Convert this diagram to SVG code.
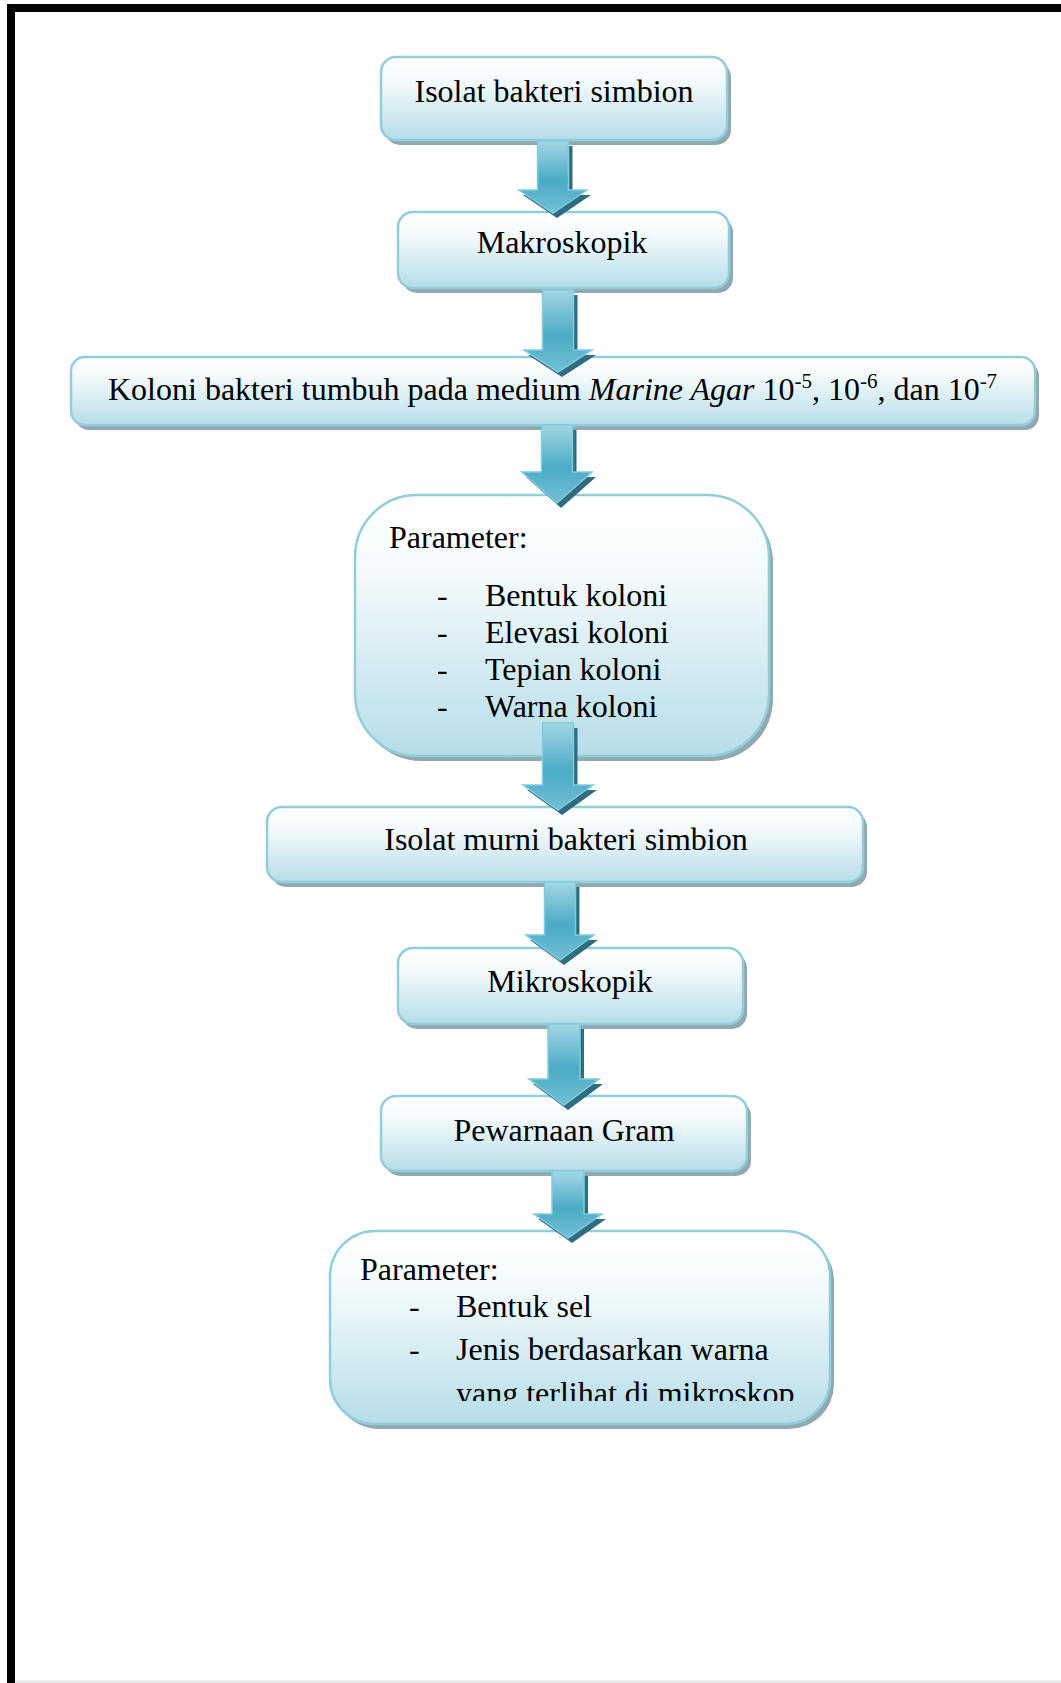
<svg xmlns="http://www.w3.org/2000/svg" width="1061" height="1683" viewBox="0 0 1061 1683">
  <defs>
    <linearGradient id="boxFill" x1="0" y1="0" x2="0" y2="1">
      <stop offset="0" stop-color="#ffffff"/>
      <stop offset="0.3" stop-color="#f3fafc"/>
      <stop offset="1" stop-color="#b6dde8"/>
    </linearGradient>
    <linearGradient id="arrowFill" x1="0" y1="0" x2="0" y2="1">
      <stop offset="0" stop-color="#a3d6e5"/>
      <stop offset="0.55" stop-color="#4aabc5"/>
      <stop offset="1" stop-color="#72c0d5"/>
    </linearGradient>
    <clipPath id="lastLineClip">
      <rect x="330" y="1231" width="500" height="170"/>
    </clipPath>
    <style>
      .shadow { fill: #8fa8b1; }
      .box { fill: url(#boxFill); stroke: #92cddc; stroke-width: 2.5; }
      .label { font-family: "Liberation Serif", "Times New Roman", serif; font-size: 32px; fill: #000000; }
      .mid { text-anchor: middle; }
      .sup { font-size: 21px; }
      .arrowShadow { fill: #2f6d7e; }
      .arrow { fill: url(#arrowFill); stroke: #7fcbe0; stroke-width: 1.5; stroke-linejoin: miter; }
    </style>
  </defs>

  <rect width="1061" height="1683" fill="#ffffff"/>

  <!-- page frame -->
  <line x1="15" y1="1681.5" x2="1061" y2="1681.5" stroke="#e4e4e4" stroke-width="2"/>
  <path d="M11,1683 V8 H1061" fill="none" stroke="#000000" stroke-width="8"/>

  <g id="nodes">
    <g id="node-isolat">
      <rect class="shadow" x="385" y="62" width="346" height="83" rx="15"/>
      <rect class="box" x="381" y="57" width="346" height="83" rx="15"/>
      <text class="label mid" x="554" y="102">Isolat bakteri simbion</text>
    </g>
    <g id="node-makroskopik">
      <rect class="shadow" x="402" y="217" width="331" height="76" rx="15"/>
      <rect class="box" x="398" y="212" width="331" height="76" rx="15"/>
      <text class="label mid" x="562" y="253">Makroskopik</text>
    </g>
    <g id="node-koloni">
      <rect class="shadow" x="75" y="362" width="964" height="68" rx="14"/>
      <rect class="box" x="71" y="357" width="964" height="68" rx="14"/>
      <text class="label" x="108" y="400">Koloni bakteri tumbuh pada medium <tspan font-style="italic">Marine Agar</tspan> 10<tspan class="sup" dy="-12">-5</tspan><tspan dy="12">, 10</tspan><tspan class="sup" dy="-12">-6</tspan><tspan dy="12">, dan 10</tspan><tspan class="sup" dy="-12">-7</tspan></text>
    </g>
    <g id="node-parameter-makro">
      <rect class="shadow" x="359" y="500" width="414" height="261" rx="62"/>
      <rect class="box" x="355" y="495" width="414" height="261" rx="62"/>
      <text class="label" x="389" y="548">Parameter:</text>
      <g class="label">
        <text x="437" y="606">-</text><text x="485" y="606">Bentuk koloni</text>
        <text x="437" y="643">-</text><text x="485" y="643">Elevasi koloni</text>
        <text x="437" y="680">-</text><text x="485" y="680">Tepian koloni</text>
        <text x="437" y="717">-</text><text x="485" y="717">Warna koloni</text>
      </g>
    </g>
    <g id="node-isolat-murni">
      <rect class="shadow" x="271" y="812" width="596" height="75" rx="15"/>
      <rect class="box" x="267" y="807" width="596" height="75" rx="15"/>
      <text class="label mid" x="566" y="850">Isolat murni bakteri simbion</text>
    </g>
    <g id="node-mikroskopik">
      <rect class="shadow" x="402" y="953" width="345" height="76" rx="15"/>
      <rect class="box" x="398" y="948" width="345" height="76" rx="15"/>
      <text class="label mid" x="570" y="992">Mikroskopik</text>
    </g>
    <g id="node-gram">
      <rect class="shadow" x="385" y="1101" width="366" height="75" rx="15"/>
      <rect class="box" x="381" y="1096" width="366" height="75" rx="15"/>
      <text class="label mid" x="564" y="1141">Pewarnaan Gram</text>
    </g>
    <g id="node-parameter-mikro">
      <rect class="shadow" x="334" y="1236" width="500" height="193" rx="45"/>
      <rect class="box" x="330" y="1231" width="500" height="193" rx="45"/>
      <g class="label" clip-path="url(#lastLineClip)">
        <text x="360" y="1280">Parameter:</text>
        <text x="409" y="1317">-</text><text x="456" y="1317">Bentuk sel</text>
        <text x="409" y="1360">-</text><text x="456" y="1360">Jenis berdasarkan warna</text>
        <text x="456" y="1404">yang terlihat di mikroskop</text>
      </g>
    </g>
  </g>

  <g id="connectors">
    <!-- block arrows: dark offset copy underneath, gradient body on top -->
    <g>
      <path class="arrowShadow" transform="translate(4,5)" d="M537.5,141 H568.5 V190 H587 L553,213 L519,190 H537.5 Z"/>
      <path class="arrow" d="M537.5,141 H568.5 V190 H587 L553,213 L519,190 H537.5 Z"/>
    </g>
    <g>
      <path class="arrowShadow" transform="translate(4,5)" d="M542.5,290 H573.5 V350 H592 L558,372 L524,350 H542.5 Z"/>
      <path class="arrow" d="M542.5,290 H573.5 V350 H592 L558,372 L524,350 H542.5 Z"/>
    </g>
    <g>
      <path class="arrowShadow" transform="translate(4,5)" d="M541.5,425 H572.5 V472 H592 L557,503 L522,472 H541.5 Z"/>
      <path class="arrow" d="M541.5,425 H572.5 V472 H592 L557,503 L522,472 H541.5 Z"/>
    </g>
    <g>
      <path class="arrowShadow" transform="translate(4,5)" d="M542.5,723 H573.5 V785 H593 L558,810 L523,785 H542.5 Z"/>
      <path class="arrow" d="M542.5,723 H573.5 V785 H593 L558,810 L523,785 H542.5 Z"/>
    </g>
    <g>
      <path class="arrowShadow" transform="translate(4,5)" d="M544.5,882 H575.5 V935 H594 L560,960 L526,935 H544.5 Z"/>
      <path class="arrow" d="M544.5,882 H575.5 V935 H594 L560,960 L526,935 H544.5 Z"/>
    </g>
    <g>
      <path class="arrowShadow" transform="translate(4,5)" d="M548,1024 H580 V1079 H599 L564,1105 L529,1079 H548 Z"/>
      <path class="arrow" d="M548,1024 H580 V1079 H599 L564,1105 L529,1079 H548 Z"/>
    </g>
    <g>
      <path class="arrowShadow" transform="translate(4,5)" d="M552,1171 H584 V1214 H602 L568,1238 L534,1214 H552 Z"/>
      <path class="arrow" d="M552,1171 H584 V1214 H602 L568,1238 L534,1214 H552 Z"/>
    </g>
  </g>
</svg>
